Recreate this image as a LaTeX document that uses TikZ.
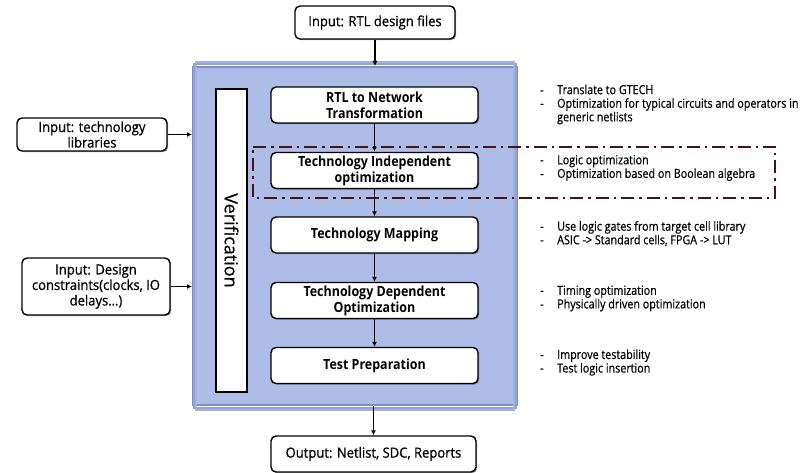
\documentclass[tikz,border=0pt]{standalone}
\usepackage{fontspec}
\setmainfont{Open Sans}
\newfontfamily\boxfont[FakeStretch=0.93,FakeBold=0.8]{Open Sans}
\newfontfamily\stagefont[FakeStretch=0.89]{Open Sans}
\newfontfamily\notefont[FakeStretch=0.86,FakeBold=0.5]{Open Sans}
\newfontfamily\verfont[FakeBold=0.5]{Open Sans}
\newcommand{\nitem}{\makebox[19pt][l]{\hspace{2pt}-}}
\newcommand{\nskip}{\makebox[19pt][l]{}}
\usetikzlibrary{arrows.meta,shadows}
\definecolor{bluefill}{RGB}{174,189,232}
\definecolor{blueedgeA}{RGB}{128,143,198}
\definecolor{blueedgeB}{RGB}{148,163,214}
\definecolor{blueedgeC}{RGB}{162,177,225}
\definecolor{dashcol}{RGB}{70,20,22}
\tikzset{
  boxbase/.style={draw=black, line width=1.4pt, rounded corners=5pt, fill=white,
    align=center, inner sep=1pt,
    drop shadow={shadow xshift=1.2pt, shadow yshift=-1.2pt, opacity=0.35, fill=black}},
  stage/.style={boxbase, minimum width=207pt, minimum height=36pt,
    font=\stagefont\fontsize{14}{16}\selectfont\bfseries},
  inbox/.style={boxbase, font=\boxfont\fontsize{14}{15.5}\selectfont},
  note/.style={anchor=west, inner sep=0pt, align=left,
    font=\notefont\fontsize{12.5}{13.6}\selectfont},
  arr/.style={-{Latex[length=5pt,width=5pt]}, line width=1.3pt, black},
  dashdot/.style={draw=dashcol, line width=2.8pt,
    dash pattern=on 13pt off 5pt on 2.5pt off 5pt}
}
\begin{document}
\begin{tikzpicture}[x=1pt,y=-1pt]
\useasboundingbox (0,0) rectangle (808,473);
% main blue block
\node[fill=bluefill, draw=blueedgeA, line width=2pt, minimum width=324pt,
  minimum height=338pt, inner sep=0pt] (main) at (355,236) {};
\draw[blueedgeB, line width=2pt] ([shift={(2pt,2pt)}]main.north west) rectangle ([shift={(-2pt,-2pt)}]main.south east);
\draw[blueedgeC, line width=2pt] ([shift={(4pt,4pt)}]main.north west) rectangle ([shift={(-4pt,-4pt)}]main.south east);
% verification
\node[draw=black, line width=1.3pt, fill=white, minimum width=31pt,
  minimum height=303pt, inner sep=0pt] (ver) at (231.5,240.5) {};
\node[rotate=-90, font=\verfont\fontsize{18}{20}\selectfont] (vertext) at (ver.center) {Verification};
% stages
\node[stage] (rtl)  at (374.5,105)   {RTL to Network\\Transformation};
\node[stage] (ind)  at (374.5,170.5) {Technology Independent\\optimization};
\node[stage] (map)  at (374.5,235)   {Technology Mapping};
\node[stage] (dep)  at (374.5,300.5) {Technology Dependent\\Optimization};
\node[stage] (test) at (374.5,365.5) {Test Preparation};
% inputs / output
\node[inbox, minimum width=160pt, minimum height=33pt] (in) at (375,22.5) {Input: RTL design files};
\node[inbox, minimum width=205pt, minimum height=36pt] (out) at (373.5,454) {Output: Netlist, SDC, Reports};
\node[inbox, minimum width=150pt, minimum height=33pt] (lib) at (92,134.5) {Input: technology\\libraries};
\node[inbox, minimum width=148pt, minimum height=57pt] (con) at (96,286.5) {Input: Design\\constraints(clocks, IO\\delays…)};
% dash-dot frame
\draw[dashdot] (253,147) -- (775,147) -- (775,198) -- (253,198) -- cycle;
% arrows
\draw[arr] (in.south) -- (in.south |- main.north);
\draw[arr] (rtl) -- (ind);
\draw[arr] (ind) -- (map);
\draw[arr] (map) -- (dep);
\draw[arr] (dep) -- (test);
\draw[arr] (main.south -| out.north) -- (out.north);
\draw[arr] (lib.east) -- (lib.east -| main.west);
\draw[arr] (con.east) -- (con.east -| main.west);
% notes
\node[note] (n1) at (538,104.5) {\nitem Translate to GTECH\\\nitem Optimization for typical circuits and operators in\\\nskip generic netlists};
\node[note] (n2) at (538,168) {\nitem Logic optimization\\\nitem Optimization based on Boolean algebra};
\node[note] (n3) at (538,233.5) {\nitem Use logic gates from target cell library\\\nitem ASIC -> Standard cells, FPGA -> LUT};
\node[note] (n4) at (538,298.5) {\nitem Timing optimization\\\nitem Physically driven optimization};
\node[note] (n5) at (538,362.5) {\nitem Improve testability\\\nitem Test logic insertion};
\end{tikzpicture}
\end{document}
